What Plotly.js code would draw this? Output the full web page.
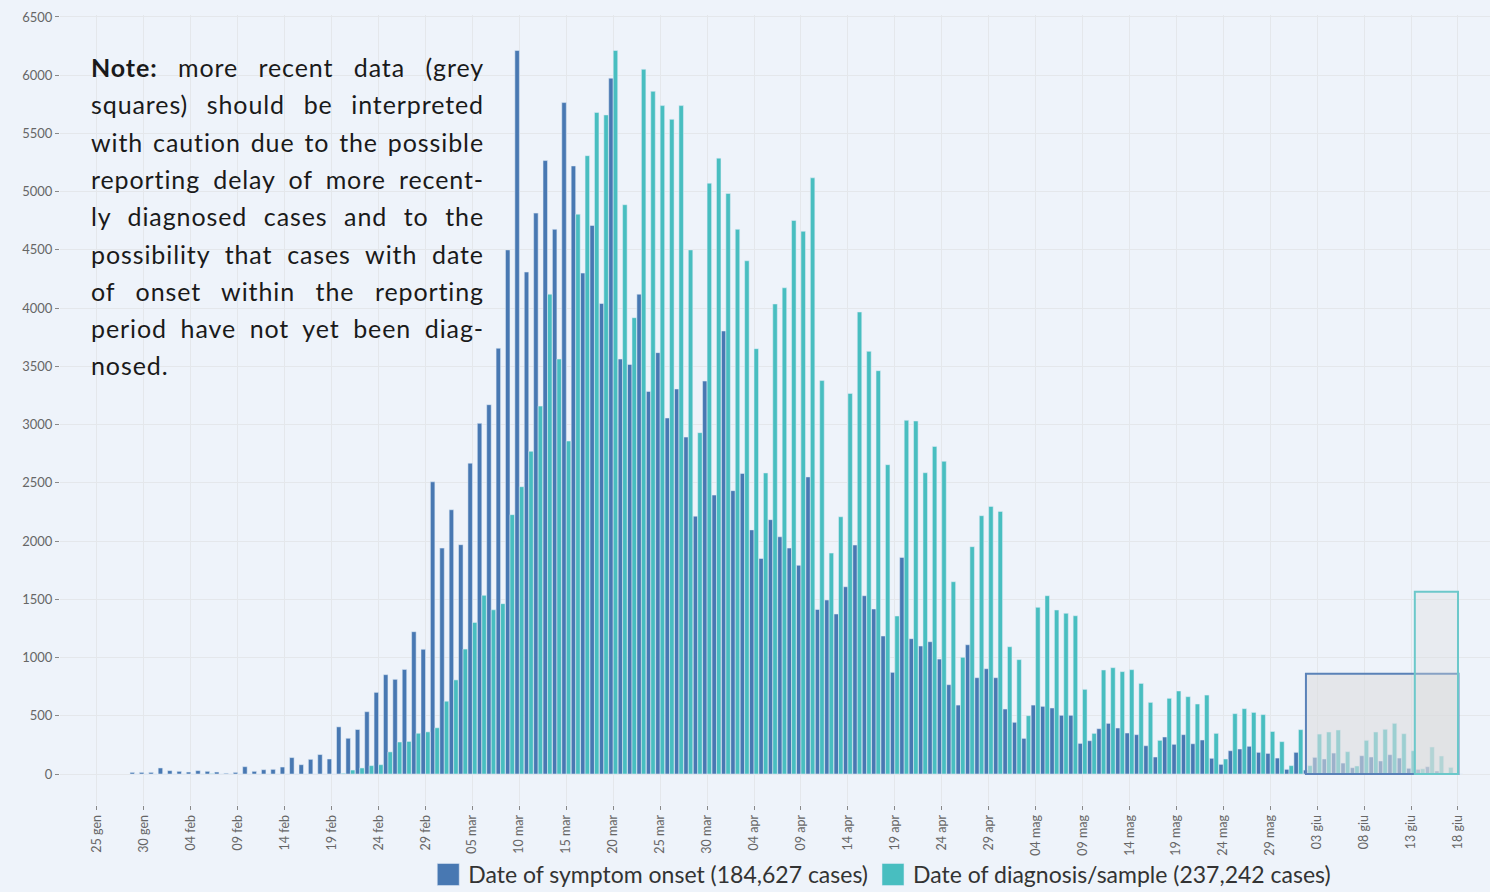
<!DOCTYPE html>
<html>
<head>
<meta charset="utf-8">
<script src="https://cdn.plot.ly/plotly-3.0.1.min.js"></script>
<style>
  html, body { margin: 0; padding: 0; background: #eef3fa; }
  #chart { width: 1490px; height: 892px; }
</style>
</head>
<body>
<div id="chart"></div>
<script>
// First day of the series (values below start on this date, one per day)
const firstDay = '2020-01-29';

// Daily cases by date of symptom onset
const onsetCases = [
  14,14,14,52,29,23,17,29,23,17,
  6,14,63,23,37,40,60,141,80,126,
  167,129,405,307,382,535,701,853,813,898,
  1222,1071,2509,1940,2269,1969,2669,3011,3171,3656,
  4500,6212,4310,4816,5267,4677,5765,5221,4301,4710,
  4040,5975,3563,3517,4120,3285,3618,3057,3306,2893,
  2214,3374,2395,3804,2433,2581,2096,1851,2184,2037,
  1940,1792,2551,1413,1494,1374,1608,1966,1531,1417,
  1185,873,1860,1162,1099,1136,987,767,592,1110,
  827,904,827,558,444,306,592,581,567,504,
  504,263,286,389,435,395,352,338,243,146,
  318,255,338,260,292,135,83,200,215,238,
  186,177,137,40,186,34,143,129,180,94,
  54,157,146,112,166,137,49,40,63,26,
  5,0
];

// Daily cases by date of diagnosis / sample
const diagnosisCases = [
  0,0,0,0,0,0,0,0,3,0,
  0,0,0,0,0,0,0,0,0,0,
  0,0,6,34,52,72,80,190,275,280,
  350,362,397,625,808,1073,1302,1534,1410,1463,
  2227,2467,2771,3159,4120,3563,2859,4807,5309,5680,
  5659,6212,4888,3918,6051,5862,5739,5621,5739,4500,
  2931,5073,5288,4985,4677,4407,3652,2585,4036,4175,
  4753,4660,5119,3378,1897,2209,3268,3967,3629,3463,
  2656,1357,3037,3031,2587,2813,2685,1651,1002,1952,
  2218,2298,2255,1093,982,501,1431,1531,1408,1380,
  1359,727,349,893,913,879,896,778,615,289,
  650,713,664,601,678,349,129,518,561,529,
  510,365,278,72,381,72,343,361,378,192,
  69,289,361,384,435,346,200,45,232,155,
  57,0
];

const seriesNames = [
  'Date of symptom onset (184,627 cases)',
  'Date of diagnosis/sample (237,242 cases)'
];

// x-axis ticks (Italian date labels)
const tickDates = [
  '2020-01-25','2020-01-30','2020-02-04','2020-02-09','2020-02-14','2020-02-19',
  '2020-02-24','2020-02-29','2020-03-05','2020-03-10','2020-03-15','2020-03-20',
  '2020-03-25','2020-03-30','2020-04-04','2020-04-09','2020-04-14','2020-04-19',
  '2020-04-24','2020-04-29','2020-05-04','2020-05-09','2020-05-14','2020-05-19',
  '2020-05-24','2020-05-29','2020-06-03','2020-06-08','2020-06-13','2020-06-18'
];
const tickLabels = [
  '25 gen','30 gen','04 feb','09 feb','14 feb','19 feb',
  '24 feb','29 feb','05 mar','10 mar','15 mar','20 mar',
  '25 mar','30 mar','04 apr','09 apr','14 apr','19 apr',
  '24 apr','29 apr','04 mag','09 mag','14 mag','19 mag',
  '24 mag','29 mag','03 giu','08 giu','13 giu','18 giu'
];

// Note text, one entry per printed line
const noteLines = [
  '<b>Note:</b> more recent data (grey',
  'squares) should be interpreted',
  'with caution due to the possible',
  'reporting delay of more recent-',
  'ly diagnosed cases and to the',
  'possibility that cases with date',
  'of onset within the reporting',
  'period have not yet been diag-',
  'nosed.'
];

// ---------- build ----------
const DAY = 86400000;
const t0 = Date.parse(firstDay + 'T00:00:00Z');
function iso(ms) { return new Date(ms).toISOString().slice(0, 19).replace('T', ' '); }
const dates = onsetCases.map((_, i) => iso(t0 + i * DAY));
const base = Date.parse('2020-01-25T00:00:00Z');
function dayPos(d) { return iso(base + d * DAY); }

const BLUE = '#4878b2';
const TEAL = '#48bec0';
const BG = '#eef3fa';

const traces = [
  {
    type: 'bar', name: seriesNames[0], x: dates, y: onsetCases,
    marker: { color: BLUE, line: { color: 'rgba(225,236,248,0.9)', width: 0.6 } },
    hoverinfo: 'x+y'
  },
  {
    type: 'bar', name: seriesNames[1], x: dates, y: diagnosisCases,
    marker: { color: TEAL, line: { color: 'rgba(225,236,248,0.9)', width: 0.6 } },
    hoverinfo: 'x+y'
  }
];

const M = { l: 60, r: 0, t: 15, b: 87, autoexpand: false };
const plotH = 892 - M.t - M.b;
const plotW = 1490 - M.l - M.r;
function py(pix) { return (892 - M.b - pix) / plotH; }
function px(pix) { return (pix - M.l) / plotW; }

const annotations = noteLines.map((txt, i) => ({
  xref: 'paper', yref: 'paper',
  x: px(89), y: py(67 + i * 37.3),
  xanchor: 'left', yanchor: 'middle', align: 'left',
  showarrow: false, text: txt,
  font: { family: 'Lato, "Open Sans", sans-serif', size: 25, color: '#1a1a1a' }
}));

const shapes = [
  {
    type: 'rect', xref: 'x', yref: 'y', layer: 'above',
    x0: dayPos(128.8), x1: dayPos(145.05), y0: 0, y1: 861,
    fillcolor: 'rgba(220,220,222,0.57)',
    line: { color: '#5a82b8', width: 2 }
  },
  {
    type: 'rect', xref: 'x', yref: 'y', layer: 'above',
    x0: dayPos(140.4), x1: dayPos(145.0), y0: 0, y1: 1566,
    fillcolor: 'rgba(220,220,222,0.35)',
    line: { color: '#6cc8ca', width: 2 }
  }
];

const layout = {
  width: 1490, height: 892,
  margin: M,
  paper_bgcolor: BG, plot_bgcolor: BG,
  font: { family: 'Lato, "Open Sans", sans-serif', color: '#555' },
  barmode: 'group', bargap: 0.04, bargroupgap: 0,
  showlegend: true,
  legend: {
    orientation: 'h', x: 0.575, xanchor: 'center', y: -0.088, yanchor: 'middle',
    font: { family: 'Lato, "Open Sans", sans-serif', size: 23, color: '#333' },
    bgcolor: 'rgba(0,0,0,0)'
  },
  xaxis: {
    type: 'date', automargin: false,
    range: [dayPos(-3.94), dayPos(148.41)],
    tickmode: 'array', tickvals: tickDates, ticktext: tickLabels,
    tickangle: -90, ticks: 'outside', ticklen: 4, tickcolor: '#888',
    tickfont: { size: 12.5, color: '#666' },
    showgrid: true, gridcolor: '#e4e7eb', gridwidth: 1,
    zeroline: false, showline: false, fixedrange: true
  },
  yaxis: {
    automargin: false,
    range: [-266, 6517],
    tickmode: 'linear', tick0: 0, dtick: 500,
    ticks: 'outside', ticklen: 4, tickcolor: '#888',
    tickfont: { size: 13, color: '#666' },
    showgrid: true, gridcolor: '#e4e7eb', gridwidth: 1,
    zeroline: false, showline: false, fixedrange: true
  },
  annotations: annotations,
  shapes: shapes
};

Plotly.newPlot('chart', traces, layout, { displayModeBar: false, staticPlot: true }).then(() => {
  // justify note lines (all but the last) to a common width
  const targetW = 484 - 91;
  const texts = document.querySelectorAll('#chart .annotation-text');
  texts.forEach((el, i) => {
    el.style.letterSpacing = '0.9px';
    if (i >= noteLines.length - 1) return;
    const w = el.getComputedTextLength();
    const spaces = (el.textContent.match(/ /g) || []).length;
    if (spaces > 0 && w < targetW) {
      el.style.wordSpacing = ((targetW - w) / spaces).toFixed(2) + 'px';
    }
  });
  // larger legend swatches, as in the original
  document.querySelectorAll('#chart .legendpoints path').forEach(p => {
    p.setAttribute('d', 'M11,11H-11V-11H11Z');
  });
});
</script>
</body>
</html>
